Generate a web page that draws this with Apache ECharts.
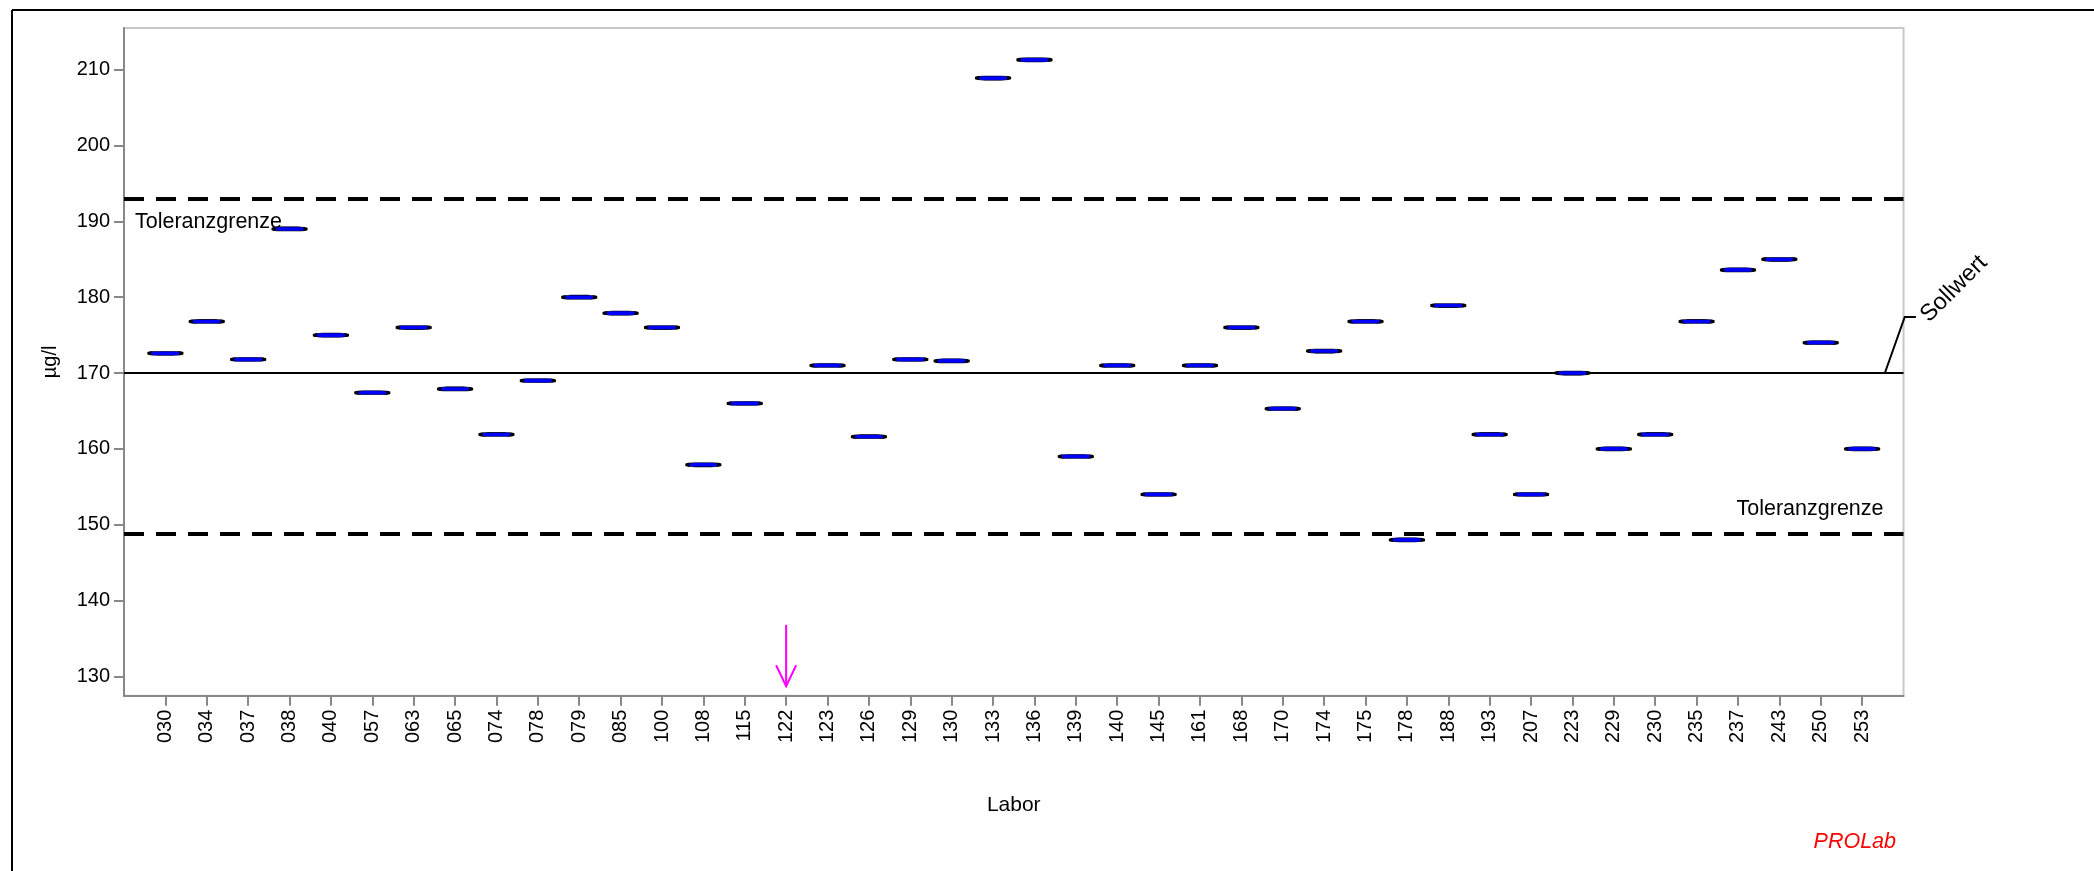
<!DOCTYPE html>
<html><head><meta charset="utf-8">
<script src="https://cdn.jsdelivr.net/npm/echarts@6/dist/echarts.min.js"></script>
<style>html,body{margin:0;padding:0;background:#fff}#c{width:2094px;height:871px}</style>
</head><body><div id="c"></div>
<script>
// ---- data ----
const labs = ['030','034','037','038','040','057','063','065','074','078','079','085','100','108','115','122','123','126','129','130','133','136','139','140','145','161','168','170','174','175','178','188','193','207','223','229','230','235','237','243','250','253'];
const values = [172.6,176.8,171.8,189.0,175.0,167.4,176.0,167.9,161.9,169.0,180.0,177.9,176.0,157.9,166.0,null,171.0,161.6,171.8,171.6,208.9,211.3,159.0,171.0,154.0,171.0,176.0,165.3,172.9,176.8,148.0,178.9,161.9,154.0,170.0,160.0,161.9,176.8,183.6,185.0,174.0,160.0];
const belowRangeLabs = ['122'];
const sollwert = 170;
const upperLimit = 192.95;
const lowerLimit = 148.77;
const yTicks = [130,140,150,160,170,180,190,200,210];
const yMin = 127.45, yMax = 215.5;
const limitLabel = 'Toleranzgrenze';
const sollLabel = 'Sollwert';
const xName = 'Labor';
const yName = 'µg/l';
const brand = 'PROLab';

const FONT = '"Liberation Sans", Arial, sans-serif';
const xPositions = labs.map((l, i) => i + 1);
const points = [];
labs.forEach((l, i) => { if (values[i] != null) points.push([i + 1, values[i]]); });

const chart = echarts.init(document.getElementById('c'), null, {renderer: 'canvas'});
chart.setOption({
  animation: false,
  backgroundColor: '#fff',
  grid: {left: 124, right: 190.5, top: 28, bottom: 175.3, show: true, borderColor: '#c8c8c8', borderWidth: 2, backgroundColor: 'transparent', outerBoundsMode: 'none'},
  xAxis: {
    type: 'value', min: 0, max: labs.length + 1,
    name: xName, nameLocation: 'middle', nameGap: 99,
    nameTextStyle: {fontFamily: FONT, fontSize: 21, color: '#000'},
    axisLine: {show: true, onZero: false, lineStyle: {color: '#888', width: 2}},
    axisTick: {show: true, length: 10, customValues: xPositions, lineStyle: {color: '#888', width: 2}},
    axisLabel: {show: true, customValues: xPositions, rotate: 90, margin: 14, fontFamily: FONT, fontSize: 20, color: '#000',
      formatter: v => labs[Math.round(v) - 1] || ''},
    splitLine: {show: false}
  },
  yAxis: {
    type: 'value', min: yMin, max: yMax,
    name: yName, nameLocation: 'middle', nameGap: 64, nameRotate: 90,
    nameTextStyle: {fontFamily: FONT, fontSize: 20, color: '#000'},
    axisLine: {show: true, onZero: false, lineStyle: {color: '#888', width: 2}},
    axisTick: {show: true, length: 10, customValues: yTicks, lineStyle: {color: '#888', width: 2}},
    axisLabel: {show: true, customValues: yTicks, margin: 14, fontFamily: FONT, fontSize: 20, color: '#000'},
    splitLine: {show: false}
  },
  series: [
    {
      type: 'scatter', data: [], z: 1, silent: true,
      markLine: {
        silent: true, symbol: ['none', 'none'], label: {show: false},
        data: [
          {yAxis: sollwert, lineStyle: {color: '#000', width: 2, type: 'solid'}},
          {yAxis: upperLimit, lineStyle: {color: '#000', width: 4, type: [20, 12]}},
          {yAxis: lowerLimit, lineStyle: {color: '#000', width: 4, type: [20, 12]}}
        ]
      }
    },
    {
      type: 'scatter', z: 5, data: points, symbol: 'roundRect', symbolSize: [32, 4.2],
      itemStyle: {color: '#0000ff', borderColor: '#000', borderWidth: 1.5, opacity: 1}
    }
  ]
});

const px = (x, y) => chart.convertToPixel({xAxisIndex: 0, yAxisIndex: 0}, [x, y]);
const g = [];
// outer frame
g.push({type: 'line', shape: {x1: 12, y1: 10, x2: 2094, y2: 10}, style: {stroke: '#000', lineWidth: 2}});
g.push({type: 'line', shape: {x1: 12, y1: 10, x2: 12, y2: 871}, style: {stroke: '#000', lineWidth: 2}});
// limit labels
const up = px(0, upperLimit), lo = px(labs.length + 1, lowerLimit);
g.push({type: 'text', x: up[0] + 11, y: up[1] + 23, style: {text: limitLabel, font: '21.5px ' + FONT, fill: '#000', align: 'left', verticalAlign: 'middle'}});
g.push({type: 'text', x: lo[0] - 20, y: lo[1] - 25, style: {text: limitLabel, font: '21.5px ' + FONT, fill: '#000', align: 'right', verticalAlign: 'middle'}});
// Sollwert leader + label
const s0 = px(42.55, sollwert), s1 = px(43.03, 177.4), s2 = px(43.3, 177.4);
g.push({type: 'polyline', shape: {points: [s0, s1, s2]}, style: {stroke: '#000', lineWidth: 2, fill: null}});
g.push({type: 'text', x: s2[0] + 38, y: s2[1] - 28, rotation: Math.PI / 4,
  style: {text: sollLabel, font: '23.5px ' + FONT, fill: '#000', align: 'center', verticalAlign: 'middle'}});
// below-range arrows
belowRangeLabs.forEach(l => {
  const i = labs.indexOf(l) + 1;
  const top = px(i, 136.8), tip = px(i, 128.7);
  g.push({type: 'line', shape: {x1: top[0], y1: top[1], x2: tip[0], y2: tip[1]}, style: {stroke: '#ff00ff', lineWidth: 2}});
  g.push({type: 'polyline', shape: {points: [[tip[0] - 10, tip[1] - 21], tip, [tip[0] + 10, tip[1] - 21]]}, style: {stroke: '#ff00ff', lineWidth: 2, fill: null}});
});
// brand
g.push({type: 'text', x: 1896, y: 842, style: {text: brand, font: 'italic 21.5px ' + FONT, fill: '#ff0000', align: 'right', verticalAlign: 'middle'}});
chart.setOption({graphic: g});
</script></body></html>
